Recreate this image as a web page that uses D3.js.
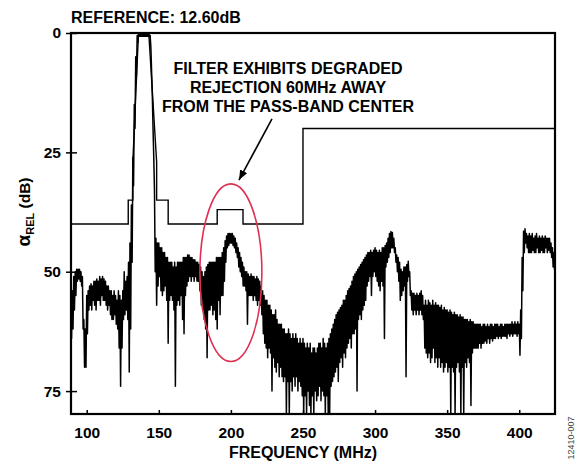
<!DOCTYPE html>
<html>
<head>
<meta charset="utf-8">
<script src="https://d3js.org/d3.v7.min.js"></script>
<style>
  body { margin: 0; background: #fff; }
  text { font-family: "Liberation Sans", Arial, sans-serif; }
  .tick text { font-weight: bold; font-size: 15.5px; fill: #000; }
</style>
</head>
<body>
<script>
// spectrum trace, 1 MHz bins from startFreq; upper and lower edge of the noisy trace (dB below reference)
var startFreq = 89;
var traceHi = [
  57,54,51,50,49.5,49.5,49.5,50,51,60,
  62,55,54,53,52.5,53,52,52,51.5,52,
  51,51.5,51,51.5,52,53,53,54,54,55,
  54,55,56,54,55,56,54,50,52,51,
  48,44,36,26,15,5,0.5,0,0,0,
  0,0,0,0,0,0.5,8,20,33,43,
  44,44,45,45,46,46,47,47,48,48,
  48,49,48,49,48,48,48,48,47,47,
  47,46.5,46.5,47,47,47.5,47.5,48,48,48.5,
  49,50,51,50,49,48.5,48,48,48,48,
  48,47,47,47,47,46,45,43.5,42.5,42,
  42,42,42,42.5,43,44,45,46,47,48,
  49,50,50,50.5,51,50.5,51,51,51.5,51,
  51.5,52,53,54,55,56,56,57,57,58,
  59,59,58,60,61,61,61,62,62,63,
  63,62,63,64,63,64,63,64,65,64,
  65,64,65,66,65,66,65,67,66,66,
  67,66,65,65,66,64,65,66,65,64,
  63,62,61,60,59,58.5,58,57.5,57,56,
  56,55,54,53.5,53,52,51,50.5,50,49.5,
  49,48.5,48,47.5,47,46.5,46,46,45.5,46,
  45.5,45,45.5,46,45.5,46,45,45,44.5,44,
  43,42,41.6,41.8,43,45,46.5,47,48,49.5,
  50,49,49,48.5,47.8,50,54,54.5,54.5,55,
  54.5,55,54.5,54,55,57,56,57,56,56.5,
  57,56,57,56.5,57,57,57.5,57,58,57.5,
  58,58,58.5,58,58.5,59,58.5,59,59,59.5,
  59,59.5,59.5,60,60,60,60.5,60,60.5,60.5,
  61,61,61,61,61,61.5,61,61,61.5,61,
  61.5,61,61,61.5,61,61,61,61.5,61,61,
  61.5,61,61,61,61,61,60.5,61,60.5,61,
  60.5,61,58,47,41.5,41,42,42.5,42,42.5,
  42,43,42.5,42,43,42.5,43,42.5,43,42.5,
  43,43,43,44,45,46,46
];
var traceLo = [
  64,62,58,55,52,51.5,52,53,62,70,
  70,63,58,57,58,56,57,58,56,56,
  57,55,56,56,57,58,57,59,60,60,
  59,61,62,66,74,66,60,59,58,60,
  71,62,48,32,20,9,2,0.6,0.6,0.6,
  0.6,0.6,0.6,0.6,0.8,3,13,26,50,57,
  53,51,54,55,54,53,56,65,56,55,
  56,58,74,57,56,57,55,60,63,55,
  53,52,51,52,51,52,51,52,52,54,
  57,58,60,62,68,58,58,57,59,58,
  60,62,56,59,55,55,52,48,45,44.5,
  44,44,44.5,45,46,47,49,50,51,53,
  53,54,61,55,55,55,56,55,56,57,
  56,57,59,63,65,66,68,66,67,75,
  68,70,71,69,72,70,72,73,72,80,
  73,80,73,75,72,74,72,75,73,74,
  76,80,76,80,75,78,80,76,80,75,
  77,76,74,77,75,76,80,76,80,80,
  74,73,72,71,70,73,69,68,70,67,
  68,66,65,64,66,63,63,62,75,60,
  59,60,58,57,56,53,52,51,55,51,
  50,51,52,53,54,52,53,64,49,48,
  47,46,45,45,46,48,50,52,56,55,
  54,53,72,52,51,55,58,59,58,59,
  58,59,58,59,60,66,67,68,67,69,
  68,66,69,68,70,68,70,69,71,70,
  69,71,70,80,70,71,80,70,69,71,
  80,70,80,69,70,68,69,78,67,66,
  66,66,66,65,66,65,65,64.5,65,64,
  65,64,64.5,64,64,63.5,64,63.5,64,63.5,
  63.5,63.5,64,63,63.5,63,63.5,63,63,63.5,
  63,67.5,64,54,46,44,45,46,46,46,
  45.5,46,46,45,46,46,45.5,46,46,45,
  46,45.5,46,47,49,49.6,49
];

// limit mask (step line)
var maskFreq = [89, 128.8, 128.8, 132, 132, 135.8, 143.2, 148.5, 148.5, 156.5, 156.5, 190.5, 190.5, 208.4, 208.4, 250, 250, 425];
var maskDb   = [40, 40, 35, 35, 27, 0.7, 0.7, 27, 35, 35, 40, 40, 37, 37, 40, 40, 20, 20];

var xTicks = [100, 150, 200, 250, 300, 350, 400];
var yTicks = [0, 25, 50, 75];

var noteLines = ["FILTER EXHIBITS DEGRADED", "REJECTION 60MHz AWAY", "FROM THE PASS-BAND CENTER"];

var margin = {top: 33, right: 22, bottom: 53, left: 71},
  width = 577 - margin.left - margin.right,
  height = 467 - margin.top - margin.bottom;

var x = d3.scaleLinear().domain([89.1, 424.8]).range([0, width]);
var y = d3.scaleLinear().domain([0, 79.8]).range([0, height]);

var svg = d3.select("body").append("svg").
  attr("width", 577).
  attr("height", 467);

var defs = svg.append("defs");
defs.append("clipPath").attr("id", "plotclip").
  append("rect").attr("width", width).attr("height", height);
defs.append("marker").
  attr("id", "head").
  attr("viewBox", "0 0 10 8").
  attr("refX", 10).attr("refY", 4).
  attr("markerWidth", 10).attr("markerHeight", 8).
  attr("markerUnits", "userSpaceOnUse").
  attr("orient", "auto").
  append("path").attr("d", "M0,0L10,4L0,8Z").attr("fill", "#000");

var g = svg.append("g").
  attr("transform", "translate(" + margin.left + "," + margin.top + ")");

// trace: zigzag between upper and lower edge of each bin
var pts = [];
traceHi.forEach(function (v, i) {
  pts.push([startFreq + i, v]);
  pts.push([startFreq + i + 0.5, traceLo[i]]);
});

var line = d3.line().
  x(function (d) { return x(d[0]); }).
  y(function (d) { return y(d[1]); });

var plot = g.append("g").attr("clip-path", "url(#plotclip)");

plot.append("path").
  datum(maskFreq.map(function (f, i) { return [f, maskDb[i]]; })).
  attr("d", line).
  attr("fill", "none").
  attr("stroke", "#000").
  attr("stroke-width", 1.4);

plot.append("path").
  datum(pts).
  attr("d", line).
  attr("fill", "none").
  attr("stroke", "#000").
  attr("stroke-width", 1.5).
  attr("stroke-linejoin", "round");

// red ring round the 200MHz bump
plot.append("ellipse").
  attr("cx", x(200)).
  attr("cy", y(50.2)).
  attr("rx", x(221.5) - x(200)).
  attr("ry", y(68.8) - y(50.2)).
  attr("fill", "none").
  attr("stroke", "#e0304f").
  attr("stroke-width", 1.6);

// frame
g.append("rect").
  attr("width", width).attr("height", height).
  attr("fill", "none").
  attr("stroke", "#000").
  attr("stroke-width", 2.2);

var xAxis = d3.axisBottom(x).tickValues(xTicks).tickSize(-4).tickPadding(13);
var yAxis = d3.axisLeft(y).tickValues(yTicks).tickSize(5).tickPadding(5);

var gx = g.append("g").attr("transform", "translate(0," + height + ")").call(xAxis);
gx.select(".domain").remove();
gx.selectAll(".tick line").attr("stroke-width", 1.5).attr("y1", 1);

var gy = g.append("g").call(yAxis);
gy.select(".domain").remove();
gy.selectAll(".tick line").attr("stroke-width", 1.5).attr("x1", -5).attr("x2", 6);

// arrow
g.append("line").
  attr("x1", x(228.5)).attr("y1", y(18.0)).
  attr("x2", x(205.6)).attr("y2", y(30.8)).
  attr("stroke", "#000").
  attr("stroke-width", 1.6).
  attr("marker-end", "url(#head)");

svg.append("text").
  attr("x", 71).attr("y", 23).
  attr("font-size", 16).attr("font-weight", "bold").
  text("REFERENCE: 12.60dB");

svg.selectAll(".note").data(noteLines).enter().append("text").
  attr("class", "note").
  attr("x", 288).
  attr("y", function (d, i) { return 74 + i * 19; }).
  attr("text-anchor", "middle").
  attr("font-size", 16).attr("font-weight", "bold").
  text(function (d) { return d; });

svg.append("text").
  attr("x", 303).attr("y", 458).
  attr("text-anchor", "middle").
  attr("font-size", 16).attr("font-weight", "bold").
  text("FREQUENCY (MHz)");

var yt = svg.append("text").
  attr("transform", "translate(30,212) rotate(-90)").
  attr("text-anchor", "middle").
  attr("font-size", 15.5).attr("font-weight", "bold");
yt.append("tspan").attr("font-size", 19).text("α");
yt.append("tspan").attr("font-size", 11).attr("dy", 4).text("REL");
yt.append("tspan").attr("dy", -4).text(" (dB)");

svg.append("text").
  attr("transform", "translate(574,438) rotate(-90)").
  attr("text-anchor", "middle").
  attr("font-size", 9).
  attr("fill", "#444").
  text("12410-007");
</script>
</body>
</html>
